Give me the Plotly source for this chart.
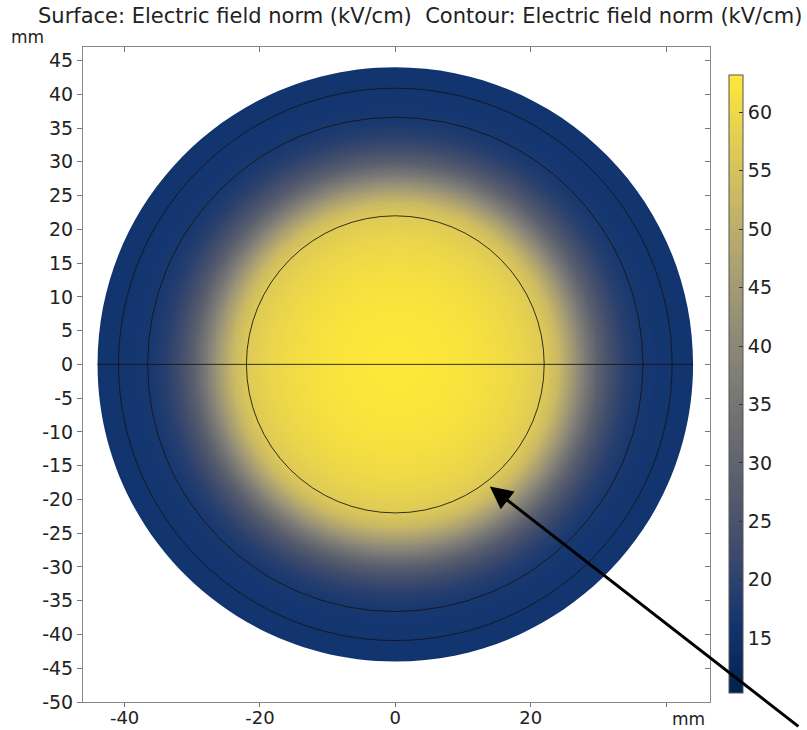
import numpy as np
import plotly.graph_objects as go

# ---- data ----
# radial profile of the electric field norm (kV/cm) vs radius (mm)
R_PROFILE = [0, 4, 8, 12, 16, 19, 22, 24, 26, 28, 30, 32, 34, 36, 38, 41, 44]
E_PROFILE = [63.0, 62.9, 62.5, 61.7, 60.4, 59.0, 56.8, 53.0, 45.5, 36.5, 28.5, 23.0, 19.3, 17.3, 16.6, 16.2, 16.0]
DISK_RADIUS = 44.0
CONTOUR_RADII = [22.0, 36.6, 40.9]
E_MIN, E_MAX = 10.3, 63.2

X_TICKS = [-40, -20, 0, 20, 40]
X_TICKTEXT = ["-40", "-20", "0", "20", ""]
Y_TICKS = list(range(-50, 50, 5))
Y_TICKTEXT = [str(v) for v in Y_TICKS]
CBAR_TICKS = [15, 20, 25, 30, 35, 40, 45, 50, 55, 60]
TITLE = "Surface: Electric field norm (kV/cm)  Contour: Electric field norm (kV/cm)"
ARROW_HEAD = (13.97, -18.1)

# ---- surface grid ----
g = np.linspace(-DISK_RADIUS, DISK_RADIUS, 221)
XX, YY = np.meshgrid(g, g)
RR = np.sqrt(XX**2 + YY**2)
Z = np.round(np.interp(RR, R_PROFILE, E_PROFILE), 2)

fig = go.Figure()
fig.add_trace(go.Heatmap(
    x=g, y=g, z=Z, colorscale="Cividis", zmin=E_MIN, zmax=E_MAX, zsmooth="best",
    hoverinfo="skip",
    colorbar=dict(
        thickness=14, lenmode="pixels", len=618, x=1.0303, xanchor="left", xpad=0,
        y=0.4855, yanchor="middle", ypad=0, outlinewidth=1, outlinecolor="#555",
        tickvals=CBAR_TICKS, ticks="inside", ticklen=4, tickcolor="#333",
        tickfont=dict(family="DejaVu Sans", size=19, color="#222"),
    ),
))
fig.add_trace(go.Scatter(x=[None], y=[None], xaxis="x2", yaxis="y2",
                         showlegend=False, hoverinfo="skip"))

# white mask outside the disk (circle as 4 cubic Beziers)
R = DISK_RADIUS
k = 0.5523 * R
B = 45.5
mask = (f"M {-B},{-B} L {B},{-B} L {B},{B} L {-B},{B} Z "
        f"M {R},0 C {R},{k} {k},{R} 0,{R} C {-k},{R} {-R},{k} {-R},0 "
        f"C {-R},{-k} {-k},{-R} 0,{-R} C {k},{-R} {R},{-k} {R},0 Z")
shapes = [dict(type="path", path=mask, xref="x", yref="y", fillcolor="white",
               line=dict(width=0), layer="above", fillrule="evenodd")]
for rc in CONTOUR_RADII:
    shapes.append(dict(type="circle", xref="x", yref="y", x0=-rc, x1=rc, y0=-rc, y1=rc,
                       line=dict(color="rgba(20,20,20,0.85)", width=1), layer="above"))
shapes.append(dict(type="line", xref="x", yref="y", x0=-R, x1=R, y0=0, y1=0,
                   line=dict(color="rgba(20,20,20,0.85)", width=1), layer="above"))

axis_font = dict(family="DejaVu Sans", size=19, color="#222")
fig.update_layout(
    width=807, height=730, margin=dict(l=83, r=97, t=47, b=28),
    paper_bgcolor="white", plot_bgcolor="white",
    xaxis=dict(range=[-46.15, 46.5], tickvals=X_TICKS, ticktext=X_TICKTEXT,
               ticks="outside", ticklen=4, tickcolor="#777", showgrid=False, zeroline=False,
               showline=True, linecolor="#888", linewidth=1, mirror=True,
               tickfont=dict(family="DejaVu Sans", size=18, color="#222"),
               ticklabelstandoff=-5, automargin=False),
    yaxis=dict(range=[-50, 47], tickvals=Y_TICKS, ticktext=Y_TICKTEXT, ticks="outside",
               ticklen=5, tickcolor="#777", showgrid=False, zeroline=False, showline=True,
               linecolor="#888", linewidth=1, mirror=True, tickfont=axis_font,
               automargin=False),
    xaxis2=dict(overlaying="x", matches="x", side="top", tickvals=X_TICKS, ticks="inside",
                ticklen=5, tickcolor="#777", showticklabels=False, showgrid=False,
                zeroline=False, showline=False, automargin=False),
    yaxis2=dict(overlaying="y", matches="y", side="right", tickvals=Y_TICKS, ticks="inside",
                ticklen=5, tickcolor="#777", showticklabels=False, showgrid=False,
                zeroline=False, showline=False, automargin=False),
    shapes=shapes,
    annotations=[
        dict(text=TITLE, xref="paper", yref="paper", x=0.5375, y=1.047, showarrow=False,
             xanchor="center", yanchor="middle",
             font=dict(family="DejaVu Sans", size=21, color="#222")),
        dict(text="mm", xref="paper", yref="paper", x=-0.088, y=1.016, showarrow=False,
             xanchor="center", yanchor="middle",
             font=dict(family="DejaVu Sans", size=17, color="#222")),
        dict(text="mm", xref="paper", yref="paper", x=0.965, y=-0.026, showarrow=False,
             xanchor="center", yanchor="middle",
             font=dict(family="DejaVu Sans", size=17, color="#222")),
        dict(text="", x=ARROW_HEAD[0], y=ARROW_HEAD[1], xref="x", yref="y",
             showarrow=True, ax=310, ay=241, arrowhead=2, arrowsize=1.5, arrowwidth=3,
             arrowcolor="black", standoff=0),
    ],
)
fig.write_html("out.html")
